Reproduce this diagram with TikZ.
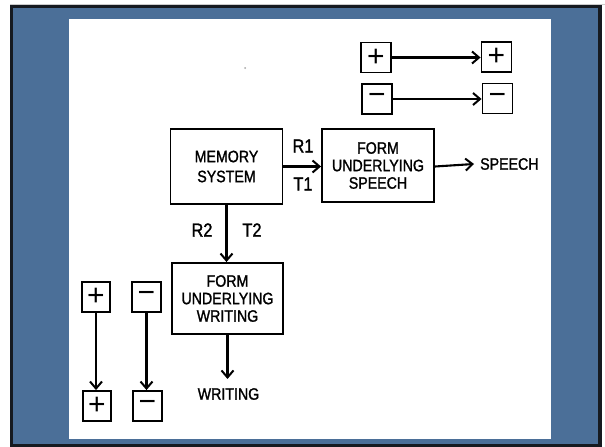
\documentclass[tikz,border=0pt]{standalone}
\usepackage{fontspec}
\setmainfont{Liberation Sans}
\newfontfamily\leroy[FakeStretch=0.86,FakeBold=1.3]{Liberation Sans}
\newfontfamily\signfont{Liberation Sans}
\usetikzlibrary{arrows.meta}
\definecolor{slideblue}{RGB}{75,111,152}
\definecolor{frameblack}{RGB}{22,26,32}
\tikzset{
  box/.style={draw, line width=1.9pt, inner sep=0pt, align=center,
    font=\leroy\fontsize{16.5}{17.5}\selectfont},
  sbox/.style={draw, line width=1.9pt, minimum width=30, minimum height=30, inner sep=0pt,
    font=\signfont\fontsize{30}{30}\selectfont},
  lbl/.style={inner sep=0pt, font=\leroy\fontsize{19}{19}\selectfont},
  txt/.style={inner sep=0pt, font=\leroy\fontsize{16.5}{17}\selectfont},
  arr/.style={line width=2.1pt, -{Straight Barb[length=7pt,width=12pt,line width=2pt]}}
}
\begin{document}
\begin{tikzpicture}[x=1pt,y=-1pt]
\useasboundingbox (0,0) rectangle (605,447);
\fill[white] (0,0) rectangle (605,447);
\draw[gray!40, line width=1pt] (10,4) -- (605,4);
\draw[frameblack, line width=3.5pt, fill=slideblue] (11.5,6.5) rectangle (600,445.5);
\fill[white] (69,19) rectangle (551,439);
\fill[gray!70] (245,68) circle (1);

% main boxes
\node[box, minimum width=112, minimum height=75] (mem) at (226.5,166.5) {MEMORY\\[2.5pt]SYSTEM};
\node[box, minimum width=112, minimum height=73] (fspeech) at (378,165.5) {FORM\\UNDERLYING\\SPEECH};
\node[box, minimum width=111, minimum height=71] (fwrite) at (227.5,298.5) {FORM\\UNDERLYING\\WRITING};

\node[txt, anchor=west] (speech) at (480,164) {SPEECH};
\node[txt] (writing) at (228.5,394) {WRITING};

\node[lbl] (r1) at (303,146) {R1};
\node[lbl] (t1) at (303,184) {T1};
\node[lbl] (r2) at (202,230) {R2};
\node[lbl] (t2) at (252,230) {T2};

% sign boxes
\node[sbox] (p1) at (376,57.5) {+};
\node[sbox] (p2) at (496.5,57) {+};
\node[sbox] (m1) at (377,99) {−};
\node[sbox] (m2) at (497.5,98.5) {−};
\node[sbox, minimum width=28] (p3) at (96,297) {+};
\node[sbox, minimum width=29] (m3) at (146.5,297) {−};
\node[sbox, minimum width=28] (p4) at (97,406) {+};
\node[sbox, minimum width=29] (m4) at (147.5,406) {−};

% connectors
\draw[arr] (mem.east) -- (fspeech.west |- mem.east);
\draw[arr] (fspeech.east |- mem.east) -- ([xshift=-6pt]speech.west);
\draw[arr] (mem.south) -- (mem.south |- fwrite.north);
\draw[arr] (fwrite.south) -- ([yshift=9pt]fwrite.south |- writing.north);
\draw[arr] (p1.east) -- (p2.west |- p1.east);
\draw[arr] (m1.east) -- (m2.west |- m1.east);
\draw[arr] (p3.south) -- (p3.south |- p4.north);
\draw[arr] (m3.south) -- (m3.south |- m4.north);
\end{tikzpicture}
\end{document}
